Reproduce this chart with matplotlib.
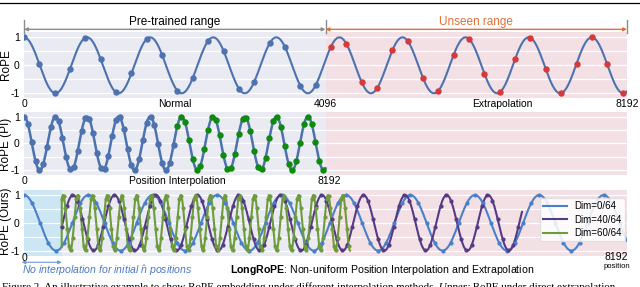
import numpy as np
import matplotlib.pyplot as plt
import matplotlib.transforms as mtransforms
from matplotlib.lines import Line2D

plt.rcParams['font.family'] = ['Liberation Sans', 'DejaVu Sans']
plt.rcParams['mathtext.fontset'] = 'custom'
plt.rcParams['mathtext.rm'] = 'Liberation Sans'
plt.rcParams['mathtext.it'] = 'Liberation Sans:italic'
plt.rcParams['mathtext.bf'] = 'Liberation Sans:bold'

# context lengths
ctx_train = 4096
ctx_long = 8192
n_hat = 512

# top panel: plain RoPE, extrapolated
rope_period = 857        # positions per cycle
rope_step = 208.5        # spacing of the sampled positions
# middle panel: position interpolation (8192 squeezed into 4096)
pi_scale = 2
pi_step = 52.1
# bottom panel: LongRoPE, one curve per rotary dim
dim_labels = ["Dim=0/64", "Dim=40/64", "Dim=60/64"]
dim_periods = [875, 564, 200]
dim_peaks = [0, 666, 530]
dim_start = [0, 512, 512]
dim_end = [8192, 6765, 4429]
dim_colors = ["#4a80c8", "#553a86", "#6e9c3c"]

BLUE = "#4c72b0"
RED = "#d43a3a"
GREEN = "#0e8a0e"
LAV = "#eaeaf2"
PINK = "#f3e0e5"
SKY = "#cce6f4"
ORANGE = "#e0703a"

W, H = 640, 287


def box(l, t, r, b):
    return [l / W, 1 - b / H, (r - l) / W, (b - t) / H]


fig = plt.figure(figsize=(6.4, 2.87), dpi=100)
ax1 = fig.add_axes(box(24, 32.3, 627, 98.3))
ax2 = fig.add_axes(box(24, 111.7, 627, 175))
ax3 = fig.add_axes(box(24, 190, 627, 255.7))

for ax in (ax1, ax2, ax3):
    ax.set_facecolor(LAV)
    ax.set_xlim(0, ctx_long)
    ax.set_ylim(-1.18, 1.18)
    ax.set_yticks([-1, -0.5, 0, 0.5, 1])
    ax.set_yticklabels(['-1', '', '0', '', '1'])
    ax.tick_params(axis='y', length=0, pad=3, labelsize=7.5)
    ax.set_xticks([])
    ax.grid(axis='y', color='white', lw=0.9)
    ax.set_axisbelow(True)
    for s in ax.spines.values():
        s.set_visible(False)
    ax.axvspan(ctx_train, ctx_long, color=PINK, zorder=0, lw=0)
ax3.axvspan(0, n_hat, color=SKY, zorder=0, lw=0)

# ---- top: direct extrapolation
xf = np.linspace(0, ctx_long, 3000)
ax1.plot(xf, np.cos(2 * np.pi * xf / rope_period), color=BLUE, lw=1.5, zorder=2)
pos = np.arange(0, ctx_long, rope_step)
seen = pos < ctx_train
ax1.plot(pos[seen], np.cos(2 * np.pi * pos[seen] / rope_period), 'o',
         color=BLUE, ms=3.6, zorder=3)
ax1.plot(pos[~seen], np.cos(2 * np.pi * pos[~seen] / rope_period), 'o',
         color=RED, ms=3.6, zorder=3)

# ---- middle: position interpolation
xp = np.linspace(0, ctx_train, 2000)
ax2.plot(xp, np.cos(2 * np.pi * xp * pi_scale / rope_period), color=BLUE,
         lw=1.8, zorder=2)
pp = np.arange(0, ctx_train, pi_step)
first = pp < ctx_train / 2
ax2.plot(pp[first], np.cos(2 * np.pi * pp[first] * pi_scale / rope_period), 'o',
         color=BLUE, ms=3.6, zorder=3)
ax2.plot(pp[~first], np.cos(2 * np.pi * pp[~first] * pi_scale / rope_period), 'o',
         color=GREEN, ms=3.6, zorder=3)

# ---- bottom: LongRoPE
handles = []
for lab, per, pk, x0, x1, c in zip(dim_labels, dim_periods, dim_peaks,
                                   dim_start, dim_end, dim_colors):
    xx = np.linspace(x0, x1, 3000)
    yy = np.cos(2 * np.pi * (xx - pk) / per)
    if x0 > 0 and per < 300:
        # joins onto the un-interpolated curve at n_hat
        xx = np.insert(xx, 0, x0)
        yy = np.insert(yy, 0, np.cos(2 * np.pi * x0 / dim_periods[0]))
    ax3.plot(xx, yy, color=c, lw=1.5, zorder=2)
    mk = np.arange(x0, x1, per / 8)
    ax3.plot(mk, np.cos(2 * np.pi * (mk - pk) / per), 'o', color=c, ms=2,
             zorder=3)
    handles.append(Line2D([], [], color=c, lw=1.5, label=lab))
leg = ax3.legend(handles=handles, loc='upper right', fontsize=7,
                 bbox_to_anchor=(0.997, 0.88), borderaxespad=0,
                 handlelength=2.4, labelspacing=0.35, framealpha=0.85,
                 edgecolor='#dddddd', fancybox=True, borderpad=0.35)

# ---- labels
for ax, lab, yc in ((ax1, 'RoPE', 65), (ax2, 'RoPE (PI)', 144),
                    (ax3, 'RoPE (Ours)', 221.5)):
    fig.text(6 / W, 1 - yc / H, lab, rotation=90, ha='center', va='center',
             fontsize=8.5)

tr1 = mtransforms.blended_transform_factory(ax1.transData, ax1.transAxes)
tr2 = mtransforms.blended_transform_factory(ax2.transData, ax2.transAxes)
tr3 = mtransforms.blended_transform_factory(ax3.transData, ax3.transAxes)
fs = 7.5
for x, s in ((0, '0'), (ctx_train, '4096'), (ctx_long, '8192'),
             (2048, 'Normal'), (6494, 'Extrapolation')):
    ax1.text(x, -0.09, s, transform=tr1, ha='center', va='center', fontsize=fs)
for x, s in ((0, '0'), (4150, '8192'), (2080, 'Position Interpolation')):
    ax2.text(x, -0.09, s, transform=tr2, ha='center', va='center', fontsize=fs)
ax3.text(0, -0.04, '0', transform=tr3, ha='center', va='center', fontsize=fs)
ax3.text(8050, -0.02, '8192', transform=tr3, ha='center', va='center', fontsize=fs)
ax3.text(8050, -0.17, 'position', transform=tr3, ha='center', va='center',
         fontsize=5.5)
ax3.text(4870, -0.22, r'$\mathbf{LongRoPE}$: Non-uniform Position Interpolation and Extrapolation',
         transform=tr3, ha='center', va='center', fontsize=7.6)
ax3.text(-30, -0.22, r'No interpolation for initial $\hat{n}$ positions',
         transform=tr3, ha='left', va='center', fontsize=7.6, style='italic',
         color='#4a78c8')
ax3.annotate('', xy=(-30, -0.1), xytext=(n_hat, -0.1), xycoords=tr3,
             textcoords=tr3,
             arrowprops=dict(arrowstyle='<|-|>', color='#6a98d8', lw=0.8,
                             mutation_scale=5, shrinkA=0, shrinkB=0),
             annotation_clip=False)

# ---- range brackets over the top panel
ax1.annotate('', xy=(0, 1.045), xytext=(ctx_train, 1.045), xycoords=tr1,
             textcoords=tr1,
             arrowprops=dict(arrowstyle='<|-|>', color='#8c8c8c', lw=1,
                             mutation_scale=5, shrinkA=0, shrinkB=0),
             annotation_clip=False)
ax1.annotate('', xy=(ctx_train, 1.045), xytext=(ctx_long, 1.045), xycoords=tr1,
             textcoords=tr1,
             arrowprops=dict(arrowstyle='<|-|>', color=ORANGE, lw=1,
                             mutation_scale=5, shrinkA=0, shrinkB=0),
             annotation_clip=False)
for x in (0, ctx_train, ctx_long):
    ax1.plot([x, x], [0.99, 1.18], transform=tr1, color='#8c8c8c', lw=1,
             clip_on=False)
ax1.text(2048, 1.15, 'Pre-trained range', transform=tr1, ha='center',
         va='center', fontsize=8.5)
ax1.text(6144, 1.15, 'Unseen range', transform=tr1, ha='center',
         va='center', fontsize=8.5, color=ORANGE)

# ---- page bits around the figure
fig.add_artist(Line2D([0, 1], [1 - 3.3 / H] * 2, color='black', lw=0.9))
cap_y = 1 - 289.5 / H
cap1 = fig.text(1.5 / W, cap_y,
                'Figure 2. An illustrative example to show RoPE embedding under different interpolation methods.',
                family='Liberation Serif', fontsize=7.9, va='baseline')
cap2 = fig.text(0, cap_y, ' Upper:', family='Liberation Serif', fontsize=7.9,
                style='italic', va='baseline')
cap3 = fig.text(0, cap_y, ' RoPE under direct extrapolation.',
                family='Liberation Serif', fontsize=7.9, va='baseline')
fig.canvas.draw()
r = fig.canvas.get_renderer()
cap2.set_x(cap1.get_window_extent(r).x1 / fig.bbox.width)
fig.canvas.draw()
cap3.set_x(cap2.get_window_extent(r).x1 / fig.bbox.width)

fig.savefig('out.png', dpi=100)
